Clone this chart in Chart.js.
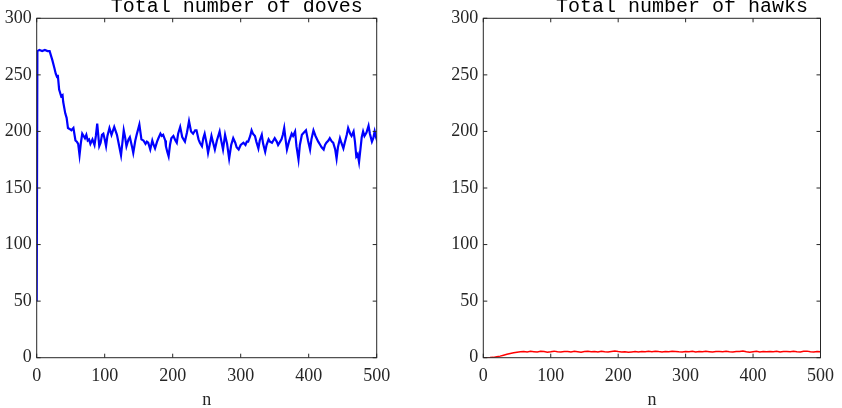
<!DOCTYPE html>
<html>
<head>
<meta charset="utf-8">
<script src="https://cdn.jsdelivr.net/npm/chart.js@4.4.1/dist/chart.umd.min.js"></script>
<style>
  html, body { margin: 0; padding: 0; background: #fff; }
  #wrap { position: relative; width: 842px; height: 408px; }
  canvas { position: absolute; top: 0; }
</style>
</head>
<body>
<div id="wrap">
  <canvas id="doves" width="421" height="408" style="left:0"></canvas>
  <canvas id="hawks" width="421" height="408" style="left:421px"></canvas>
</div>
<script>
// total number of doves over time
const doveN = [
  0, 1, 4, 8, 12, 16, 19, 23, 26, 28, 30, 31, 33, 36, 38, 39, 42, 44, 46, 49,
  51, 54, 57, 59, 61, 63, 65, 67, 69, 71, 73, 75, 77, 79, 82, 85, 87, 89, 92, 94,
  96, 98, 100, 102, 104, 107, 110, 114, 118, 121, 124, 126, 128, 130, 132, 135, 137, 140, 142, 145,
  147, 151, 154, 157, 160, 162, 164, 167, 170, 172, 174, 177, 179, 182, 184, 186, 189, 190, 192, 194,
  196, 198, 201, 204, 206, 208, 211, 214, 216, 218, 221, 224, 227, 230, 233, 235, 238, 240, 243, 245,
  247, 250, 252, 255, 257, 259, 262, 265, 269, 271, 274, 277, 280, 283, 286, 289, 292, 294, 297, 300,
  304, 307, 309, 311, 314, 316, 318, 321, 323, 326, 328, 331, 333, 336, 338, 341, 343, 346, 348, 350,
  353, 355, 358, 360, 362, 364, 366, 368, 371, 375, 377, 380, 382, 385, 387, 390, 393, 396, 399, 402,
  404, 407, 410, 414, 417, 419, 422, 424, 426, 429, 431, 434, 436, 439, 441, 443, 446, 448, 451, 453,
  456, 458, 461, 463, 466, 468, 470, 472, 474, 476, 478, 480, 482, 485, 488, 490, 493, 495, 497, 499,
  500
];
const doveCount = [
  50, 271, 272, 271, 272, 271, 271, 263, 256, 251, 248, 250, 237, 231, 232, 226, 216, 212, 203, 202,
  201, 203, 192, 191, 189, 179, 190, 198, 196, 194, 197, 192, 193, 189, 193, 188, 196, 207, 187, 190,
  197, 198, 193, 187, 196, 203, 197, 204, 197, 188, 179, 190, 201, 195, 187, 193, 195, 187, 181, 192,
  197, 206, 193, 192, 189, 191, 190, 184, 192, 188, 185, 191, 194, 198, 196, 197, 192, 187, 182, 178,
  188, 194, 196, 192, 190, 198, 204, 195, 193, 191, 199, 209, 200, 198, 201, 201, 193, 190, 187, 194,
  198, 189, 181, 190, 196, 191, 184, 192, 200, 193, 184, 197, 189, 176, 188, 194, 190, 186, 184, 188,
  190, 188, 191, 191, 196, 201, 198, 196, 191, 185, 192, 197, 189, 182, 188, 193, 191, 190, 192, 194,
  191, 188, 191, 193, 197, 203, 193, 184, 191, 198, 196, 200, 187, 175, 188, 197, 199, 201, 192, 184,
  193, 201, 196, 191, 188, 186, 184, 188, 190, 192, 194, 191, 190, 184, 176, 186, 194, 190, 185, 190,
  197, 203, 198, 196, 200, 191, 178, 180, 173, 184, 195, 200, 196, 199, 205, 198, 191, 194, 200, 195,
  193
];

// total number of hawks over time
const hawkN = [
  0, 5, 10, 15, 20, 25, 30, 35, 40, 45, 50, 55, 60, 65, 70, 75, 80, 85, 90, 95,
  100, 105, 110, 115, 120, 125, 130, 135, 140, 145, 150, 155, 160, 165, 170, 175, 180, 185, 190, 195,
  200, 205, 210, 215, 220, 225, 230, 235, 240, 245, 250, 255, 260, 265, 270, 275, 280, 285, 290, 295,
  300, 305, 310, 315, 320, 325, 330, 335, 340, 345, 350, 355, 360, 365, 370, 375, 380, 385, 390, 395,
  400, 405, 410, 415, 420, 425, 430, 435, 440, 445, 450, 455, 460, 465, 470, 475, 480, 485, 490, 495,
  500
];
const hawkCount = [
  0, 0, 0.1, 0.3, 0.9, 1.4, 2.2, 3.0, 3.7, 4.3, 4.8, 5.2, 5.5, 5.1, 5.6, 5.3, 5.0, 5.6, 5.4, 4.9,
  5.3, 5.8, 5.2, 5.0, 5.5, 5.4, 5.1, 5.6, 5.3, 4.9, 5.4, 5.6, 5.2, 5.5, 5.0, 5.7, 5.3, 5.1, 5.5, 5.9,
  5.4, 5.0, 5.3, 4.8, 5.1, 5.4, 5.0, 5.5, 5.2, 5.6, 5.3, 5.8, 5.4, 5.1, 5.5, 5.3, 5.7, 5.5, 5.2, 5.0,
  5.4, 5.3, 5.6, 5.1, 5.4, 5.2, 5.6, 5.3, 5.0, 5.4, 5.5, 5.2, 5.6, 5.3, 5.1, 5.5, 5.4, 6.0, 5.2, 4.9,
  5.3, 5.6, 5.1, 5.4, 5.2, 5.5, 5.3, 5.6, 5.0, 5.4, 5.5, 5.2, 5.6, 5.3, 5.1, 5.7, 5.8, 5.2, 5.0, 5.4,
  5.3
];

const xTicks = [0, 100, 200, 300, 400, 500];
const yTicks = [0, 50, 100, 150, 200, 250, 300];

const axisColor = "#262626";
const tickFont = { family: "'Liberation Serif', 'Times New Roman', serif", size: 18 };

// matlab style box with inward ticks, plus the clipped title on top
const boxPlugin = {
  id: "boxPlugin",
  afterDraw(chart, args, opts) {
    const { ctx, chartArea: a, scales } = chart;
    ctx.save();
    ctx.strokeStyle = axisColor;
    ctx.lineWidth = 1;
    ctx.strokeRect(a.left, a.top, a.right - a.left, a.bottom - a.top);
    ctx.beginPath();
    scales.x.ticks.forEach((t, i) => {
      const px = scales.x.getPixelForTick(i);
      ctx.moveTo(px, a.bottom);
      ctx.lineTo(px, a.bottom - 4);
      ctx.moveTo(px, a.top);
      ctx.lineTo(px, a.top + 4);
    });
    scales.y.ticks.forEach((t, i) => {
      const py = scales.y.getPixelForTick(i);
      ctx.moveTo(a.left, py);
      ctx.lineTo(a.left + 4, py);
      ctx.moveTo(a.right, py);
      ctx.lineTo(a.right - 4, py);
    });
    ctx.stroke();

    ctx.fillStyle = "#000";
    ctx.font = "20px 'Liberation Mono', 'Courier New', monospace";
    ctx.textAlign = "center";
    ctx.textBaseline = "alphabetic";
    ctx.fillText(opts.text, (a.left + a.right) / 2 + 30, 11.5);
    ctx.restore();
  },
};

function makeChart(id, title, xs, ys, color, width, yAxisWidth, padRight) {
  const points = xs.map((n, i) => ({ x: n, y: ys[i] }));
  return new Chart(document.getElementById(id), {
    type: "line",
    data: {
      datasets: [
        {
          data: points,
          borderColor: color,
          borderWidth: width,
          pointRadius: 0,
          tension: 0,
          fill: false,
        },
      ],
    },
    options: {
      responsive: false,
      animation: false,
      devicePixelRatio: 1,
      layout: { padding: { top: 18.3, right: padRight, left: 0, bottom: 0 } },
      plugins: {
        legend: { display: false },
        tooltip: { enabled: false },
        boxPlugin: { text: title },
      },
      scales: {
        x: {
          type: "linear",
          min: 0,
          max: 500,
          afterBuildTicks: (s) => { s.ticks = xTicks.map((v) => ({ value: v })); },
          afterFit: (s) => { s.height = 50.3; },
          grid: { display: false, drawTicks: false },
          border: { display: false },
          ticks: { color: axisColor, font: tickFont, padding: 8, maxRotation: 0 },
          title: {
            display: true,
            text: "n",
            color: axisColor,
            font: tickFont,
            padding: { top: 0, bottom: -3 },
          },
        },
        y: {
          min: 0,
          max: 300,
          afterBuildTicks: (s) => { s.ticks = yTicks.map((v) => ({ value: v })); },
          afterFit: (s) => { s.width = yAxisWidth; },
          grid: { display: false, drawTicks: false },
          border: { display: false },
          ticks: { color: axisColor, font: tickFont, padding: 5 },
        },
      },
    },
    plugins: [boxPlugin],
  });
}

makeChart("doves", "Total number of doves", doveN, doveCount, "#0000ff", 2.2, 36.7, 44.3);
makeChart("hawks", "Total number of hawks", hawkN, hawkCount, "#ff0000", 1.5, 62.3, 18.7);
</script>
</body>
</html>
